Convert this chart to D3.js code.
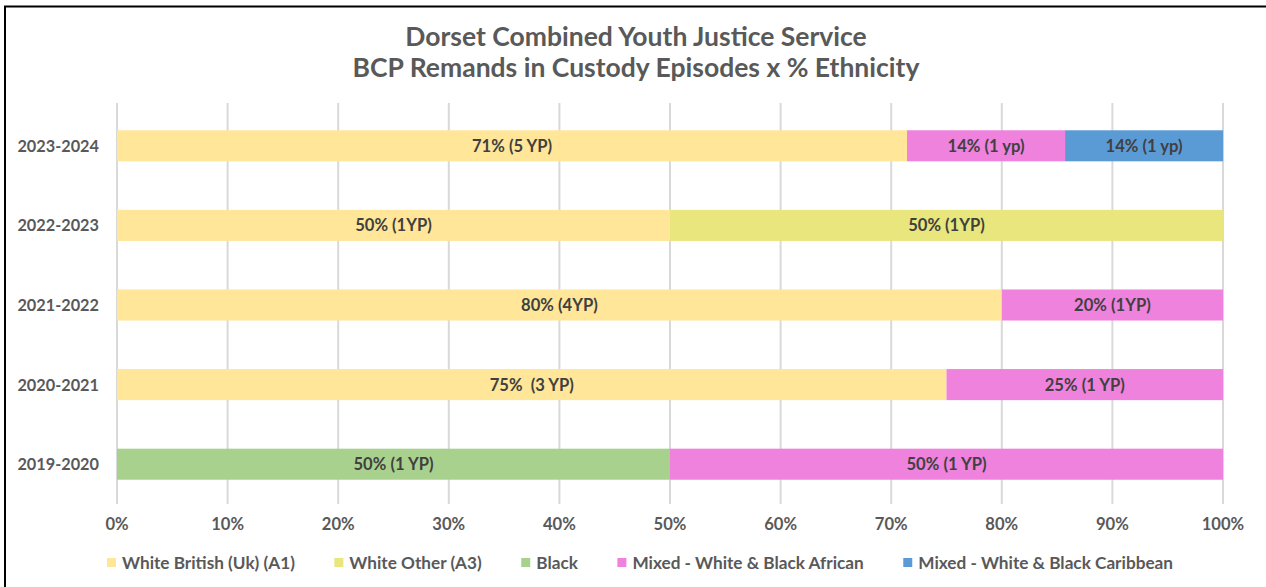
<!DOCTYPE html>
<html lang="en">
<head>
<meta charset="UTF-8">
<title>BCP Remands in Custody Episodes x % Ethnicity</title>
<style>
    body { margin: 0; background: #fff; }
    text { font-family: Lato, "Open Sans", sans-serif; }
    .grid line { stroke: #d9d9d9; stroke-width: 2px; }
    .title { font-weight: bold; font-size: 26.5px; fill: #595959; text-anchor: middle; }
    .cat { font-weight: bold; font-size: 16.3px; fill: #595959; text-anchor: end; }
    .tick-lbl { font-weight: bold; font-size: 16.6px; fill: #595959; text-anchor: middle; }
    .lbl { font-weight: bold; font-size: 16.6px; fill: #404040; text-anchor: middle; }
    .leg { font-size: 17.2px; fill: #595959; font-weight: bold; }
</style>
</head>
<body>
<script src="https://d3js.org/d3.v7.min.js"></script>
<script>
    // data
    let years = ['2023-2024', '2022-2023', '2021-2022', '2020-2021', '2019-2020'];
    let series = ['White British (Uk) (A1)', 'White Other (A3)', 'Black',
        'Mixed - White & Black African', 'Mixed - White & Black Caribbean'];
    let colors = ['#ffe699', '#e8e67c', '#a9d18e', '#ee82dd', '#5b9bd5'];

    // % per year, in series order
    let whiteBritish = [71.43, 50, 80, 75, 0];
    let whiteOther = [0, 50, 0, 0, 0];
    let black = [0, 0, 0, 0, 50];
    let mixedAfrican = [14.29, 0, 20, 25, 50];
    let mixedCaribbean = [14.29, 0, 0, 0, 0];

    let labels = [
        ['71% (5 YP)', '', '', '14% (1 yp)', '14% (1 yp)'],
        ['50% (1YP)', '50% (1YP)', '', '', ''],
        ['80% (4YP)', '', '', '20% (1YP)', ''],
        ['75%\u00a0 (3 YP)', '', '', '25% (1 YP)', ''],
        ['', '', '50% (1 YP)', '50% (1 YP)', '']
    ];
    let ticks = [0, 10, 20, 30, 40, 50, 60, 70, 80, 90, 100];

    let W = 1266, H = 587;
    let m = { l: 117, r: 43, t: 106, b: 83 };

    let svg = d3.select('body').append('svg')
        .attr('width', W).attr('height', H);

    svg.append('rect').attr('width', W).attr('height', H).attr('fill', '#fff');

    // frame (left + top edges visible)
    svg.append('path')
        .attr('d', `M5,${H} L5,6.5 L${W},6.5`)
        .attr('fill', 'none').attr('stroke', '#000').attr('stroke-width', 2);

    // title
    svg.append('text').attr('class', 'title').attr('x', 636).attr('y', 46)
        .text('Dorset Combined Youth Justice Service');
    svg.append('text').attr('class', 'title').attr('x', 636).attr('y', 77)
        .text('BCP Remands in Custody Episodes x % Ethnicity');

    let x = d3.scaleLinear().domain([0, 100]).range([m.l, W - m.r]);
    let y = d3.scaleBand().domain(years).range([m.t, H - m.b]).paddingInner(0.61).paddingOuter(0.305);

    // gridlines
    svg.append('g').attr('class', 'grid')
        .selectAll('line').data(ticks).enter().append('line')
        .attr('x1', d => x(d)).attr('x2', d => x(d))
        .attr('y1', m.t - 3).attr('y2', H - m.b);

    // tick labels
    svg.append('g').selectAll('text').data(ticks).enter().append('text')
        .attr('class', 'tick-lbl')
        .attr('x', d => x(d)).attr('y', 530)
        .text(d => d + '%');

    // category labels
    svg.append('g').selectAll('text').data(years).enter().append('text')
        .attr('class', 'cat')
        .attr('x', 99).attr('y', d => y(d) + y.bandwidth() / 2 + 6)
        .text(d => d);

    // stacked bars
    let rows = years.map((yr, i) => {
        let vals = [whiteBritish[i], whiteOther[i], black[i], mixedAfrican[i], mixedCaribbean[i]];
        let acc = 0;
        return vals.map((v, k) => {
            let seg = { yr: yr, k: k, x0: acc, x1: acc + v, lbl: labels[i][k] };
            acc += v;
            return seg;
        }).filter(s => s.x1 > s.x0);
    });
    let segs = rows.flat();

    svg.append('g').selectAll('rect').data(segs).enter().append('rect')
        .attr('x', d => x(d.x0)).attr('width', d => x(d.x1) - x(d.x0))
        .attr('y', d => y(d.yr)).attr('height', y.bandwidth())
        .attr('fill', d => colors[d.k]);

    svg.append('g').selectAll('text').data(segs).enter().append('text')
        .attr('class', 'lbl')
        .attr('x', d => (x(d.x0) + x(d.x1)) / 2)
        .attr('y', d => y(d.yr) + y.bandwidth() / 2 + 6)
        .text(d => d.lbl);

    // legend
    let lg = svg.append('g');
    let lx = 107;
    series.forEach((s, k) => {
        lg.append('rect').attr('x', lx).attr('y', 558).attr('width', 9).attr('height', 9)
            .attr('fill', colors[k]);
        let t = lg.append('text').attr('class', 'leg').attr('x', lx + 15).attr('y', 569).text(s);
        lx += 15 + t.node().getComputedTextLength() + 39.5;
    });
</script>
</body>
</html>
